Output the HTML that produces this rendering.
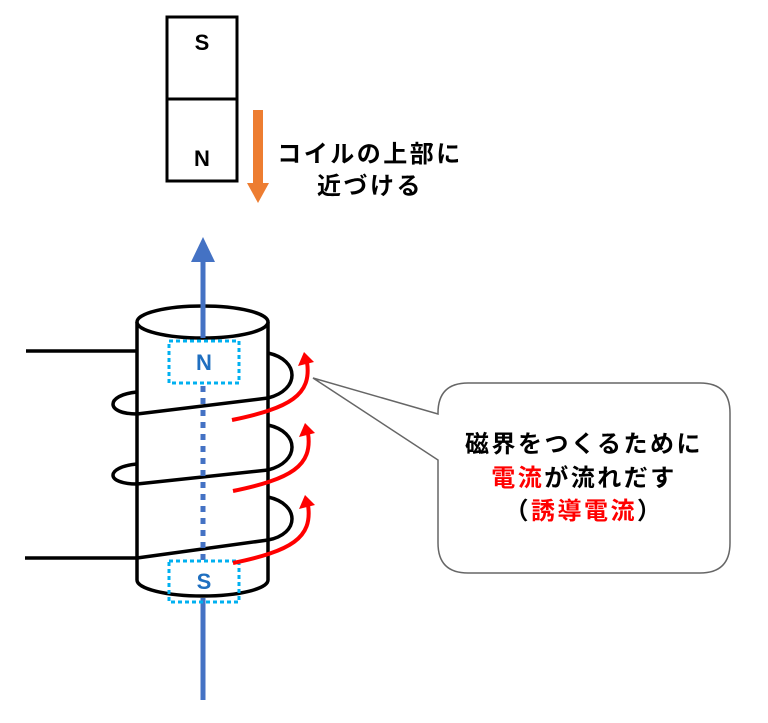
<!DOCTYPE html>
<html><head><meta charset="utf-8"><style>
html,body{margin:0;padding:0;background:#fff;}
</style></head><body>
<svg width="768" height="723" viewBox="0 0 768 723" xmlns="http://www.w3.org/2000/svg" style="display:block">
<g font-family="Liberation Sans, Noto Sans CJK JP, sans-serif" font-weight="bold">
<!-- magnet -->
<rect x="167" y="17" width="70" height="164" fill="#fff" stroke="#000" stroke-width="3"/>
<line x1="167" y1="99" x2="237" y2="99" stroke="#000" stroke-width="3"/>
<text x="202" y="50" font-size="22" text-anchor="middle">S</text>
<text x="202" y="166" font-size="22" text-anchor="middle">N</text>
<!-- orange arrow -->
<rect x="253" y="110" width="10" height="74" fill="#ED7D31"/>
<polygon points="247,183 269,183 258,203" fill="#ED7D31"/>
<g font-family="Noto Sans CJK JP, sans-serif" font-size="24" letter-spacing="2.5" text-anchor="middle">
<text x="370" y="162">コイルの上部に</text>
<text x="370" y="194">近づける</text>
</g>
<!-- wires -->
<line x1="26" y1="351" x2="137" y2="351" stroke="#000" stroke-width="3.5"/>
<line x1="25" y1="558" x2="137" y2="558" stroke="#000" stroke-width="3.5"/>
<!-- cylinder -->
<path d="M137,322 L137,580 A65.5,16 0 0 0 268,580 L268,322" fill="#fff" stroke="#000" stroke-width="3.5"/>
<ellipse cx="202.5" cy="322" rx="65.5" ry="16" fill="#fff" stroke="#000" stroke-width="3.5"/>
<!-- coil loops -->
<g fill="none" stroke="#000" stroke-width="3.5">
<path d="M268,353 C300,360 300,390 268,398 L137,414 C105,414 105,395 137,392"/>
<path d="M268,425 C300,432 300,462 268,470 L137,484 C105,484 105,467 137,464"/>
<path d="M268,497 C300,504 300,534 268,540 L137,558"/>
</g>
<!-- blue axis -->
<line x1="203" y1="250" x2="203" y2="338" stroke="#4472C4" stroke-width="5"/>
<polygon points="191,262 215,262 203,237" fill="#4472C4"/>
<line x1="203" y1="386" x2="203" y2="560" stroke="#4472C4" stroke-width="5" stroke-dasharray="6,6"/>
<line x1="203" y1="598" x2="203" y2="700" stroke="#4472C4" stroke-width="5"/>
<rect x="169" y="341" width="70" height="42" fill="none" stroke="#00B0F0" stroke-width="3" stroke-dasharray="4,3"/>
<rect x="169" y="561" width="70" height="41" fill="none" stroke="#00B0F0" stroke-width="3" stroke-dasharray="4,3"/>
<text x="204" y="370" font-size="22" text-anchor="middle" fill="#1F6FC0">N</text>
<text x="204" y="589" font-size="22" text-anchor="middle" fill="#1F6FC0">S</text>
<!-- red arrows -->
<g fill="none" stroke="#FF0000" stroke-width="4">
<path d="M232,420 C290,408 312,395 307,362"/>
<path d="M233,491 C291,479 313,466 308,433"/>
<path d="M233,563 C291,551 313,538 308,505"/>
</g>
<g fill="#FF0000">
<polygon points="298,366 314,362 304,352"/>
<polygon points="299,437 315,433 305,423"/>
<polygon points="299,509 315,505 305,495"/>
</g>
<!-- callout -->
<path d="M468,383 L700,383 Q730,383 730,413 L730,543 Q730,573 700,573 L468,573 Q438,573 438,543 L438,460 L313,378 L438,414 L438,413 Q438,383 468,383 Z" fill="#fff" stroke="#666" stroke-width="1.5"/>
<g font-family="Noto Sans CJK JP, sans-serif" font-size="24" letter-spacing="2.5" text-anchor="middle">
<text x="584" y="452">磁界をつくるために</text>
<text x="584" y="486"><tspan fill="#FF0000">電流</tspan>が流れだす</text>
<text x="584" y="519">（<tspan fill="#FF0000">誘導電流</tspan>）</text>
</g>
</g>
</svg>
</body></html>
